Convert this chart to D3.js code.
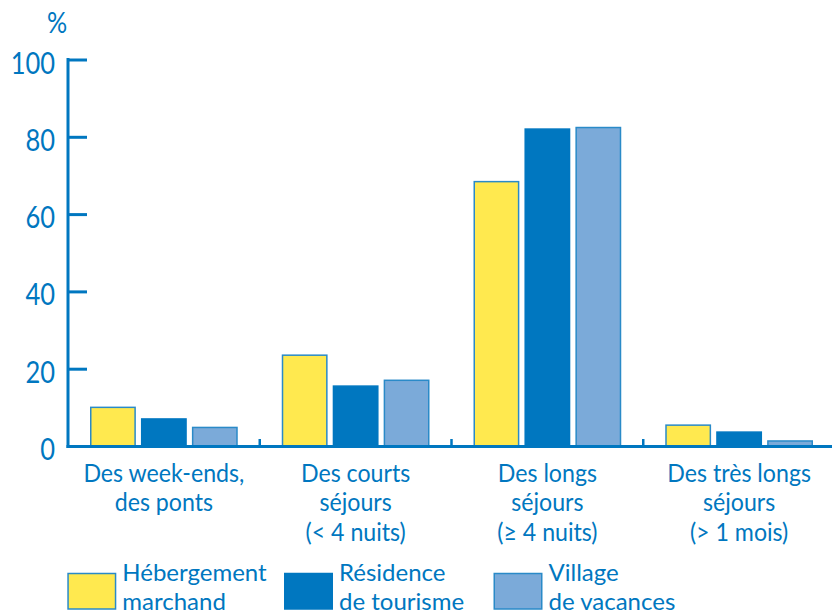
<!DOCTYPE html>
<html><head><meta charset="utf-8">
<script src="https://cdn.jsdelivr.net/npm/d3@7"></script>
<style>
body{margin:0;background:#fff;}
text{font-family:Lato,"Open Sans",sans-serif;fill:#0077c0;}
</style></head>
<body><svg id="c" width="832" height="614"></svg>
<script>
const categories = [
  ["Des week-ends,","des ponts"],
  ["Des courts","séjours","(< 4 nuits)"],
  ["Des longs","séjours","(≥ 4 nuits)"],
  ["Des très longs","séjours","(> 1 mois)"]
];
const seriesNames = [["Hébergement","marchand"],["Résidence","de tourisme"],["Village","de vacances"]];
const hebergement = [10, 23.5, 68.4, 5.4];
const residence = [7.0, 15.5, 82.0, 3.6];
const village = [4.8, 17.0, 82.4, 1.3];
const yTicks = [0,20,40,60,80,100];
const colors = ["#ffe94f","#0077c0","#7baad9"];
const strokes = ["#2a8ac8","#0077c0","#2a8ac8"];
const blue = "#0077c0";

const series = [hebergement, residence, village];
const svg = d3.select("#c");
const x0 = d3.scaleBand().domain(d3.range(categories.length)).range([68, 835]);
const x1 = d3.scaleBand().domain(d3.range(3)).range([22, x0.bandwidth()-22]).paddingInner(0.1);
const y = d3.scaleLinear().domain([0,100]).range([446, 59.5]);

// bars
series.forEach((s,si)=>{
  svg.append("g").selectAll("rect").data(s).join("rect")
    .attr("x",(d,i)=>x0(i)+x1(si)+0.75)
    .attr("width",x1.bandwidth()-1.5)
    .attr("y",d=>y(d))
    .attr("height",d=>y(0)-y(d))
    .attr("fill",colors[si])
    .attr("stroke",strokes[si])
    .attr("stroke-width",1.5);
});

// y axis
const yAxis = d3.axisRight(y).tickValues(yTicks.filter(t=>t>0)).tickSize(19).tickFormat("");
const gy = svg.append("g").attr("transform","translate(68,0)").call(yAxis);
gy.select(".domain").remove();
gy.selectAll(".tick line").attr("stroke",blue).attr("stroke-width",3);
svg.append("line").attr("x1",68).attr("x2",68).attr("y1",y(100)-1.5).attr("y2",y(0)+2)
  .attr("stroke",blue).attr("stroke-width",3);
svg.append("g").selectAll("g").data(yTicks).join("g")
  .attr("transform",d=>`translate(55,${y(d)+14}) scale(0.85,1)`)
  .append("text").attr("text-anchor","end").attr("font-size",30).text(d=>d);
svg.append("g").attr("transform","translate(57,33) scale(0.9,1)")
  .append("text").attr("text-anchor","middle").attr("font-size",28).text("%");

// x axis
svg.append("line").attr("x1",66.5).attr("x2",832).attr("y1",y(0)+0.5).attr("y2",y(0)+0.5)
  .attr("stroke",blue).attr("stroke-width",3);
const seps = d3.range(1,categories.length).map(i=>x0(i));
svg.append("g").selectAll("line").data(seps).join("line")
  .attr("x1",d=>d).attr("x2",d=>d).attr("y1",y(0)-7).attr("y2",y(0))
  .attr("stroke",blue).attr("stroke-width",2.5);

// category labels
categories.forEach((lines,i)=>{
  const g = svg.append("g").attr("transform",`translate(${x0(i)+x0.bandwidth()/2},0) scale(0.95,1)`);
  lines.forEach((l,j)=>{
    g.append("text").attr("text-anchor","middle").attr("font-size",24.4)
      .attr("x",0).attr("y",482+j*29.5).text(l);
  });
});

// legend
const legX = [67.3, 284, 493.5];
seriesNames.forEach((n,i)=>{
  svg.append("rect").attr("x",legX[i]+0.75).attr("y",573.5).attr("width",47.5).attr("height",35.5)
    .attr("fill",colors[i]).attr("stroke",strokes[i]).attr("stroke-width",1.5);
  n.forEach((l,j)=>{
    svg.append("text").attr("font-size",24).attr("x",legX[i]+55).attr("y",581+j*29).text(l);
  });
});
</script></body></html>
